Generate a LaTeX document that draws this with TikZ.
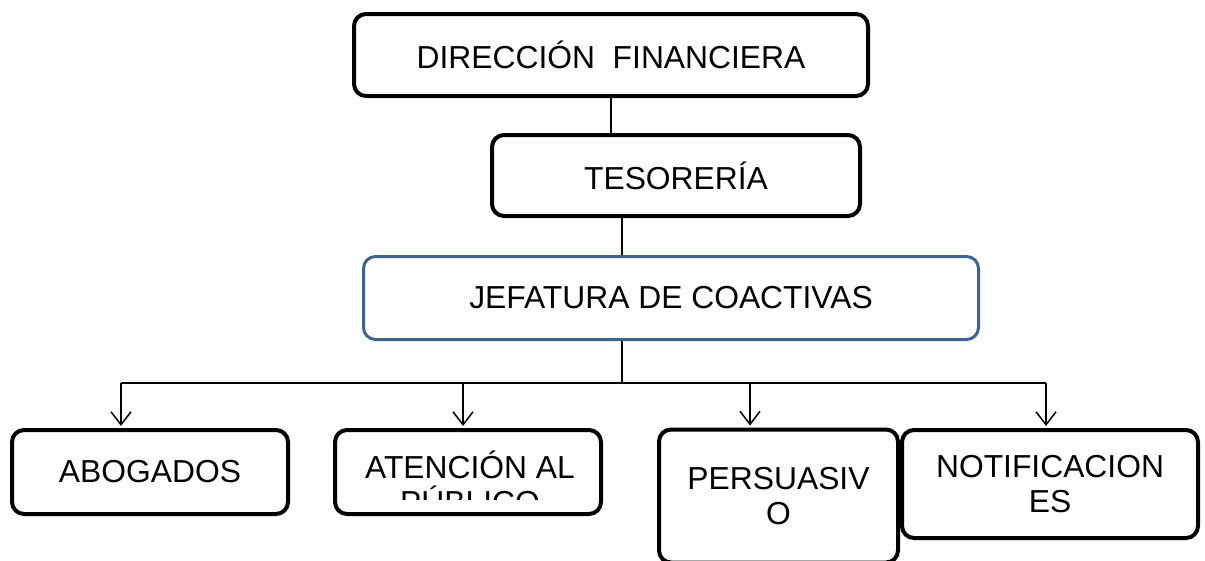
\documentclass[tikz,border=0pt]{standalone}
\usepackage{fontspec}
\setmainfont{Liberation Sans}
\usetikzlibrary{arrows.meta}
\definecolor{boxblue}{HTML}{3F6390}
\begin{document}
\begin{tikzpicture}[x=1pt,y=-1pt,
  box/.style={draw=black, line width=4pt, rounded corners=12pt, fill=white, inner sep=0pt},
  bluebox/.style={draw=boxblue, line width=3pt, rounded corners=12pt, fill=white, inner sep=0pt},
  lbl/.style={font=\fontsize{31.8}{35}\selectfont, align=center, inner sep=0pt},
  conn/.style={line width=1.5pt},
  arr/.style={conn, -{Straight Barb[length=13pt,width=20pt,line width=1.5pt]}, shorten >=2pt}]
\useasboundingbox (0,0) rectangle (1205,560);
\clip (0,0) rectangle (1205,560);
% top boxes
\node[box, lbl, minimum width=514pt, minimum height=82pt] (dir) at (611,55) {DIRECCIÓN\ \ FINANCIERA};
\node[box, lbl, minimum width=368pt, minimum height=81pt] (tes) at (676,175.5) {TESORERÍA};
\node[bluebox, lbl, minimum width=615pt, minimum height=83pt] (jef) at (671,298) {JEFATURA DE COACTIVAS};
% bottom boxes
\node[box, lbl, minimum width=276pt, minimum height=84pt] (abo) at (150,472) {ABOGADOS};
\node[box, minimum width=266pt, minimum height=84pt] (ate) at (468,472) {};
\begin{scope}
  \clip (336,430) rectangle (600,499);
  \node[lbl] (atet) at (470,482) {ATENCIÓN AL\\PÚBLICO};
\end{scope}
\node[box, lbl, minimum width=239pt, minimum height=133pt] (per) at (778.5,496) {PERSUASIV\\O};
\node[box, lbl, minimum width=296pt, minimum height=108pt] (not) at (1050,484) {NOTIFICACION\\ES};
% connectors
\draw[conn] (dir.south) -- (dir.south |- tes.north);
\coordinate (tj) at (622,0);
\draw[conn] (tj |- tes.south) -- (tj |- jef.north);
\coordinate (bus) at (622,383);
\draw[conn] (tj |- jef.south) -- (bus);
\coordinate (a1) at (121,383);
\coordinate (a2) at (463,383);
\coordinate (a3) at (750,383);
\coordinate (a4) at (1046,383);
\draw[conn] (a1) -- (a4);
\draw[arr] (a1) -- (a1 |- abo.north);
\draw[arr] (a2) -- (a2 |- ate.north);
\draw[arr] (a3) -- (a3 |- per.north);
\draw[arr] (a4) -- (a4 |- not.north);
\end{tikzpicture}
\end{document}
